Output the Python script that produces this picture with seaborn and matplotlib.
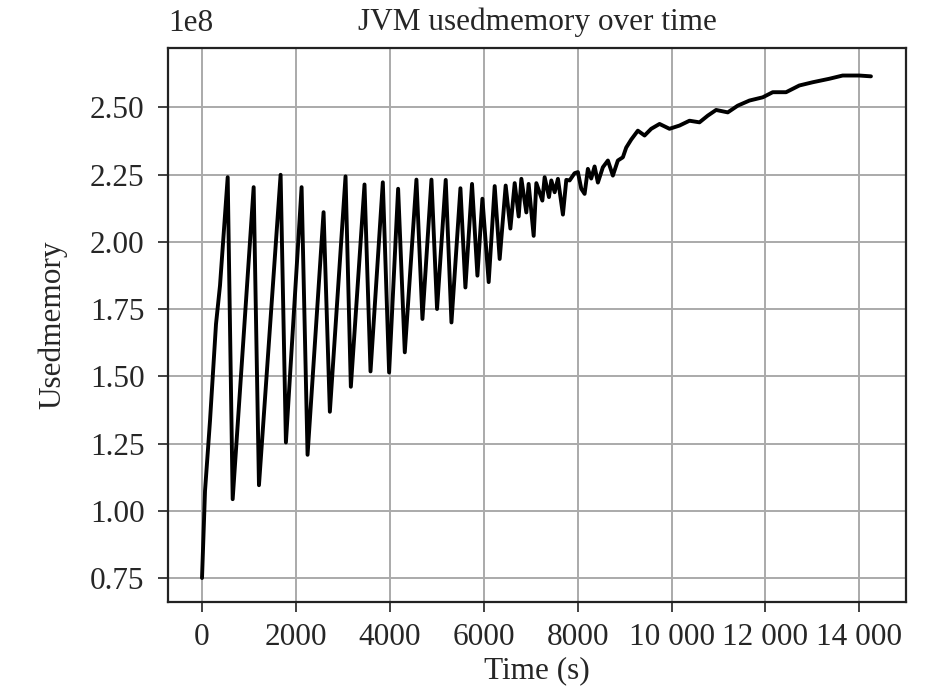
import matplotlib
matplotlib.use("Agg")
import matplotlib.pyplot as plt
import matplotlib.ticker as mticker
import seaborn as sns
import pandas as pd

time_s = [0, 64, 170, 298, 383, 547, 653, 1100, 1213, 1674, 1787, 2121, 2248,
          2589, 2723, 3057, 3170, 3461, 3589, 3851, 3985, 4177, 4319, 4567, 4695,
          4887, 5006, 5191, 5313, 5504, 5610, 5751, 5866, 5972, 6106, 6234, 6340,
          6468, 6568, 6660, 6745, 6802, 6908, 6957, 7064, 7121, 7249, 7298, 7390,
          7440, 7511, 7581, 7687, 7759, 7830, 7936, 8006, 8078, 8149, 8219, 8290,
          8362, 8432, 8538, 8645, 8751, 8857, 8964, 9035, 9142, 9283, 9426, 9568,
          9745, 9957, 10170, 10383, 10596, 10773, 10950, 11198, 11411, 11660,
          11943, 12156, 12440, 12723, 13007, 13362, 13645, 14000, 14248]
used_mem = [0.75, 1.074, 1.334, 1.694, 1.837, 2.24, 1.043, 2.203, 1.095, 2.249,
            1.254, 2.203, 1.208, 2.11, 1.368, 2.243, 1.461, 2.213, 1.518, 2.221,
            1.514, 2.197, 1.589, 2.231, 1.713, 2.231, 1.75, 2.23, 1.70, 2.199,
            1.83, 2.215, 1.874, 2.16, 1.85, 2.207, 1.936, 2.209, 2.049, 2.218,
            2.094, 2.234, 2.109, 2.215, 2.022, 2.218, 2.153, 2.24, 2.166, 2.228,
            2.184, 2.234, 2.101, 2.23, 2.228, 2.255, 2.259, 2.197, 2.178, 2.271,
            2.235, 2.28, 2.22, 2.277, 2.302, 2.246, 2.302, 2.314, 2.35, 2.38,
            2.413, 2.395, 2.42, 2.438, 2.42, 2.432, 2.45, 2.444, 2.469, 2.49,
            2.481, 2.506, 2.525, 2.537, 2.556, 2.556, 2.581, 2.593, 2.606, 2.618,
            2.618, 2.615]

df = pd.DataFrame({"time": time_s, "mem": [v * 1e8 for v in used_mem]})

sns.set_style("ticks")
plt.rcParams['font.family'] = ['Liberation Serif', 'DejaVu Serif']
fs = 22.5

fig, ax = plt.subplots(figsize=(9.45, 6.97), dpi=100)
sns.lineplot(x="time", y="mem", data=df, color="black", linewidth=2.8, ax=ax)

ax.set_title("JVM usedmemory over time", fontsize=fs, pad=13)
ax.set_xlabel("Time (s)", fontsize=fs, labelpad=3)
ax.set_ylabel("Usedmemory", fontsize=fs, labelpad=16)
ax.set_xticks(range(0, 14001, 2000))
ax.xaxis.set_major_formatter(mticker.FuncFormatter(
    lambda v, p: f"{int(v):,}".replace(",", " ") if v >= 10000 else f"{int(v)}"))
ax.set_yticks([0.75e8, 1.0e8, 1.25e8, 1.5e8, 1.75e8, 2.0e8, 2.25e8, 2.5e8])
ax.set_xlim(-720, 15000)
ax.set_ylim(0.66e8, 2.72e8)
ax.grid(True, color="#aaaaaa", linewidth=1.4)
ax.tick_params(labelsize=fs, length=7, width=1.3, color="#333333")
ax.tick_params(axis="y", pad=10)
ax.tick_params(axis="x", pad=8)
ax.yaxis.get_offset_text().set_fontsize(fs)
ax.yaxis.OFFSETTEXTPAD = 12
for s in ax.spines.values():
    s.set_visible(True)
    s.set_color("#222222")
    s.set_linewidth(1.6)

plt.subplots_adjust(left=0.178, right=0.959, top=0.931, bottom=0.136)
plt.savefig("out.png", dpi=100)
